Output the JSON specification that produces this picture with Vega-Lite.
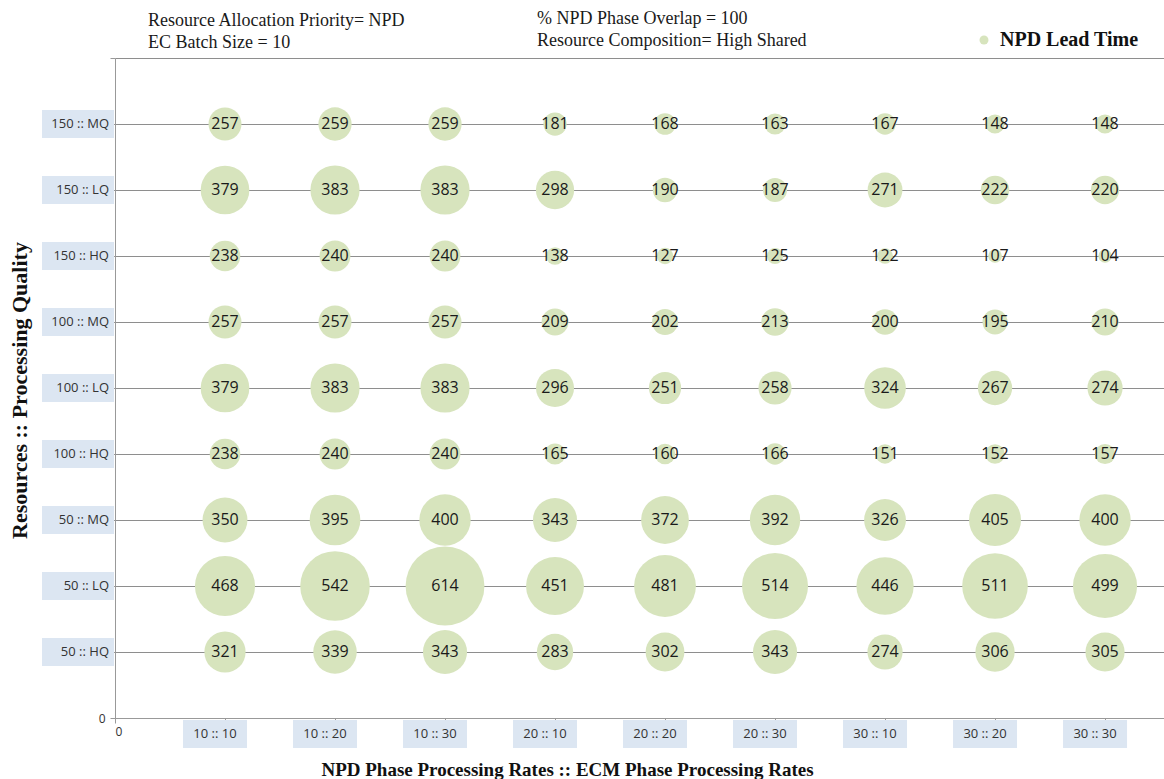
{
 "$schema": "https://vega.github.io/schema/vega-lite/v6.json",
 "width": 1049,
 "height": 660,
 "autosize": "none",
 "padding": {"left": 115, "top": 58, "right": 0, "bottom": 61},
 "background": "white",
 "config": {"view": {"stroke": null}},
 "title": {"text": ["Resource Allocation Priority= NPD", "EC Batch Size = 10"], "anchor": "start", "frame": "group", "font": "Liberation Serif", "fontSize": 18, "fontWeight": "normal", "color": "#1a1a1a", "offset": 8, "dx": 33, "dy": 30, "lineHeight": 22},
 "datasets": {
  "rates": [
   {"rate": "10 :: 10", "x": 1}, {"rate": "10 :: 20", "x": 2}, {"rate": "10 :: 30", "x": 3},
   {"rate": "20 :: 10", "x": 4}, {"rate": "20 :: 20", "x": 5}, {"rate": "20 :: 30", "x": 6},
   {"rate": "30 :: 10", "x": 7}, {"rate": "30 :: 20", "x": 8}, {"rate": "30 :: 30", "x": 9}
  ],
  "resources": [
   {"res": "150 :: MQ", "y": 9}, {"res": "150 :: LQ", "y": 8}, {"res": "150 :: HQ", "y": 7},
   {"res": "100 :: MQ", "y": 6}, {"res": "100 :: LQ", "y": 5}, {"res": "100 :: HQ", "y": 4},
   {"res": "50 :: MQ", "y": 3}, {"res": "50 :: LQ", "y": 2}, {"res": "50 :: HQ", "y": 1}
  ],
  "bubbles": [
   {"res": "150 :: MQ", "rate": "10 :: 10", "t": 257}, {"res": "150 :: MQ", "rate": "10 :: 20", "t": 259}, {"res": "150 :: MQ", "rate": "10 :: 30", "t": 259}, {"res": "150 :: MQ", "rate": "20 :: 10", "t": 181}, {"res": "150 :: MQ", "rate": "20 :: 20", "t": 168}, {"res": "150 :: MQ", "rate": "20 :: 30", "t": 163}, {"res": "150 :: MQ", "rate": "30 :: 10", "t": 167}, {"res": "150 :: MQ", "rate": "30 :: 20", "t": 148}, {"res": "150 :: MQ", "rate": "30 :: 30", "t": 148},
   {"res": "150 :: LQ", "rate": "10 :: 10", "t": 379}, {"res": "150 :: LQ", "rate": "10 :: 20", "t": 383}, {"res": "150 :: LQ", "rate": "10 :: 30", "t": 383}, {"res": "150 :: LQ", "rate": "20 :: 10", "t": 298}, {"res": "150 :: LQ", "rate": "20 :: 20", "t": 190}, {"res": "150 :: LQ", "rate": "20 :: 30", "t": 187}, {"res": "150 :: LQ", "rate": "30 :: 10", "t": 271}, {"res": "150 :: LQ", "rate": "30 :: 20", "t": 222}, {"res": "150 :: LQ", "rate": "30 :: 30", "t": 220},
   {"res": "150 :: HQ", "rate": "10 :: 10", "t": 238}, {"res": "150 :: HQ", "rate": "10 :: 20", "t": 240}, {"res": "150 :: HQ", "rate": "10 :: 30", "t": 240}, {"res": "150 :: HQ", "rate": "20 :: 10", "t": 138}, {"res": "150 :: HQ", "rate": "20 :: 20", "t": 127}, {"res": "150 :: HQ", "rate": "20 :: 30", "t": 125}, {"res": "150 :: HQ", "rate": "30 :: 10", "t": 122}, {"res": "150 :: HQ", "rate": "30 :: 20", "t": 107}, {"res": "150 :: HQ", "rate": "30 :: 30", "t": 104},
   {"res": "100 :: MQ", "rate": "10 :: 10", "t": 257}, {"res": "100 :: MQ", "rate": "10 :: 20", "t": 257}, {"res": "100 :: MQ", "rate": "10 :: 30", "t": 257}, {"res": "100 :: MQ", "rate": "20 :: 10", "t": 209}, {"res": "100 :: MQ", "rate": "20 :: 20", "t": 202}, {"res": "100 :: MQ", "rate": "20 :: 30", "t": 213}, {"res": "100 :: MQ", "rate": "30 :: 10", "t": 200}, {"res": "100 :: MQ", "rate": "30 :: 20", "t": 195}, {"res": "100 :: MQ", "rate": "30 :: 30", "t": 210},
   {"res": "100 :: LQ", "rate": "10 :: 10", "t": 379}, {"res": "100 :: LQ", "rate": "10 :: 20", "t": 383}, {"res": "100 :: LQ", "rate": "10 :: 30", "t": 383}, {"res": "100 :: LQ", "rate": "20 :: 10", "t": 296}, {"res": "100 :: LQ", "rate": "20 :: 20", "t": 251}, {"res": "100 :: LQ", "rate": "20 :: 30", "t": 258}, {"res": "100 :: LQ", "rate": "30 :: 10", "t": 324}, {"res": "100 :: LQ", "rate": "30 :: 20", "t": 267}, {"res": "100 :: LQ", "rate": "30 :: 30", "t": 274},
   {"res": "100 :: HQ", "rate": "10 :: 10", "t": 238}, {"res": "100 :: HQ", "rate": "10 :: 20", "t": 240}, {"res": "100 :: HQ", "rate": "10 :: 30", "t": 240}, {"res": "100 :: HQ", "rate": "20 :: 10", "t": 165}, {"res": "100 :: HQ", "rate": "20 :: 20", "t": 160}, {"res": "100 :: HQ", "rate": "20 :: 30", "t": 166}, {"res": "100 :: HQ", "rate": "30 :: 10", "t": 151}, {"res": "100 :: HQ", "rate": "30 :: 20", "t": 152}, {"res": "100 :: HQ", "rate": "30 :: 30", "t": 157},
   {"res": "50 :: MQ", "rate": "10 :: 10", "t": 350}, {"res": "50 :: MQ", "rate": "10 :: 20", "t": 395}, {"res": "50 :: MQ", "rate": "10 :: 30", "t": 400}, {"res": "50 :: MQ", "rate": "20 :: 10", "t": 343}, {"res": "50 :: MQ", "rate": "20 :: 20", "t": 372}, {"res": "50 :: MQ", "rate": "20 :: 30", "t": 392}, {"res": "50 :: MQ", "rate": "30 :: 10", "t": 326}, {"res": "50 :: MQ", "rate": "30 :: 20", "t": 405}, {"res": "50 :: MQ", "rate": "30 :: 30", "t": 400},
   {"res": "50 :: LQ", "rate": "10 :: 10", "t": 468}, {"res": "50 :: LQ", "rate": "10 :: 20", "t": 542}, {"res": "50 :: LQ", "rate": "10 :: 30", "t": 614}, {"res": "50 :: LQ", "rate": "20 :: 10", "t": 451}, {"res": "50 :: LQ", "rate": "20 :: 20", "t": 481}, {"res": "50 :: LQ", "rate": "20 :: 30", "t": 514}, {"res": "50 :: LQ", "rate": "30 :: 10", "t": 446}, {"res": "50 :: LQ", "rate": "30 :: 20", "t": 511}, {"res": "50 :: LQ", "rate": "30 :: 30", "t": 499},
   {"res": "50 :: HQ", "rate": "10 :: 10", "t": 321}, {"res": "50 :: HQ", "rate": "10 :: 20", "t": 339}, {"res": "50 :: HQ", "rate": "10 :: 30", "t": 343}, {"res": "50 :: HQ", "rate": "20 :: 10", "t": 283}, {"res": "50 :: HQ", "rate": "20 :: 20", "t": 302}, {"res": "50 :: HQ", "rate": "20 :: 30", "t": 343}, {"res": "50 :: HQ", "rate": "30 :: 10", "t": 274}, {"res": "50 :: HQ", "rate": "30 :: 20", "t": 306}, {"res": "50 :: HQ", "rate": "30 :: 30", "t": 305}
  ]
 },
 "layer": [
  {
   "data": {"name": "bubbles"},
   "transform": [
    {"lookup": "rate", "from": {"data": {"name": "rates"}, "key": "rate", "fields": ["x"]}},
    {"lookup": "res", "from": {"data": {"name": "resources"}, "key": "res", "fields": ["y"]}}
   ],
   "mark": {"type": "circle", "opacity": 1},
   "encoding": {
    "x": {"field": "x", "type": "quantitative", "scale": {"domain": [0, 9.536], "nice": false, "zero": true},
     "axis": {"values": [0, 1, 2, 3, 4, 5, 6, 7, 8, 9], "labelExpr": "datum.value == 0 ? '0' : ''", "grid": false, "domainColor": "#999999", "tickColor": "#999999", "tickSize": 5, "labelFont": "Open Sans", "labelFontSize": 12, "labelColor": "#333333", "labelPadding": 3,
      "title": "NPD Phase Processing Rates :: ECM Phase Processing Rates", "titleFont": "Liberation Serif", "titleFontSize": 19, "titleFontWeight": "bold", "titleColor": "#111111", "titleX": 452, "titleY": 57, "titleBaseline": "alphabetic", "titleAlign": "center"}},
    "y": {"field": "y", "type": "quantitative", "scale": {"domain": [0, 10], "nice": false},
     "axis": {"values": [0, 1, 2, 3, 4, 5, 6, 7, 8, 9, 10], "labelExpr": "datum.value == 0 ? '0' : ''", "grid": true, "gridColor": "#8e8e8e", "gridWidth": 1, "domainColor": "#999999", "tickColor": "#999999", "tickSize": 5, "labelFont": "Open Sans", "labelFontSize": 12, "labelColor": "#333333", "labelPadding": 5,
      "title": "Resources :: Processing Quality", "titleFont": "Liberation Serif", "titleFontSize": 22, "titleFontWeight": "bold", "titleColor": "#111111", "titleX": -89, "titleY": 332, "titleBaseline": "alphabetic", "titleAngle": -90, "titleAlign": "center"}},
    "size": {"field": "t", "type": "quantitative", "scale": {"type": "pow", "exponent": 2, "domain": [0, 614], "range": [0, 6221]}, "legend": null},
    "color": {"datum": "NPD Lead Time", "type": "nominal", "scale": {"range": ["#d7e4bd"]},
     "legend": {"orient": "none", "legendX": 422, "legendY": -28, "title": ["% NPD Phase Overlap = 100", "Resource Composition= High Shared"], "titleOrient": "left", "titleAnchor": "end", "titleFont": "Liberation Serif", "titleFontSize": 18, "titleFontWeight": "normal", "titleColor": "#1a1a1a", "titlePadding": 167, "titleLineHeight": 22, "titleLimit": 400, "symbolType": "circle", "symbolSize": 80, "symbolStrokeWidth": 0, "labelOffset": 6, "labelFont": "Liberation Serif", "labelFontSize": 20, "labelFontWeight": "bold", "labelColor": "#111111", "labelLimit": 300, "padding": 0}}
   }
  },
  {
   "data": {"name": "bubbles"},
   "transform": [
    {"lookup": "rate", "from": {"data": {"name": "rates"}, "key": "rate", "fields": ["x"]}},
    {"lookup": "res", "from": {"data": {"name": "resources"}, "key": "res", "fields": ["y"]}}
   ],
   "mark": {"type": "text", "font": "Open Sans", "fontSize": 16, "color": "#1a1a1a", "baseline": "middle", "align": "center"},
   "encoding": {
    "x": {"field": "x", "type": "quantitative"},
    "y": {"field": "y", "type": "quantitative"},
    "text": {"field": "t", "type": "quantitative"}
   }
  },
  {
   "data": {"name": "rates"},
   "mark": {"type": "point", "shape": "M-1,-0.44H1V0.44H-1Z", "filled": true, "fill": "#dce6f2", "opacity": 1, "strokeWidth": 0, "size": 4096, "yOffset": 16, "xOffset": -10},
   "encoding": {
    "x": {"field": "x", "type": "quantitative"},
    "y": {"datum": 0, "type": "quantitative"}
   }
  },
  {
   "data": {"name": "rates"},
   "mark": {"type": "text", "font": "Open Sans", "fontSize": 13, "color": "#333333", "baseline": "middle", "align": "center", "yOffset": 16, "xOffset": -10},
   "encoding": {
    "x": {"field": "x", "type": "quantitative"},
    "y": {"datum": 0, "type": "quantitative"},
    "text": {"field": "rate", "type": "nominal"}
   }
  },
  {
   "data": {"name": "resources"},
   "mark": {"type": "point", "shape": "M-1,-0.39H1V0.39H-1Z", "filled": true, "fill": "#dce6f2", "opacity": 1, "strokeWidth": 0, "size": 5184, "xOffset": -37},
   "encoding": {
    "x": {"datum": 0, "type": "quantitative"},
    "y": {"field": "y", "type": "quantitative"}
   }
  },
  {
   "data": {"name": "resources"},
   "mark": {"type": "text", "font": "Open Sans", "fontSize": 13, "color": "#333333", "baseline": "middle", "align": "right", "xOffset": -6},
   "encoding": {
    "x": {"datum": 0, "type": "quantitative"},
    "y": {"field": "y", "type": "quantitative"},
    "text": {"field": "res", "type": "nominal"}
   }
  }
 ]
}
